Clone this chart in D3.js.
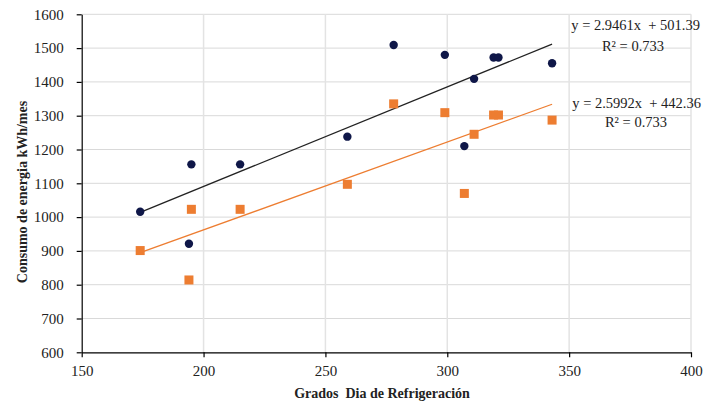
<!DOCTYPE html>
<html>
<head>
<meta charset="utf-8">
<script src="https://cdn.jsdelivr.net/npm/d3@7"></script>
<style>
  body { margin: 0; background: #fff; }
  svg text { font-family: "Liberation Serif", "Times New Roman", "DejaVu Serif", serif; }
</style>
</head>
<body>
<svg id="chart" width="705" height="404"></svg>
<script>
// grados dia (x) - same for both series
const gradosDia = [174, 194, 195, 215, 259, 278, 299, 307, 311, 319, 321, 343];
// consumo, serie azul (circulos)
const consumoAzul = [1016, 921, 1156, 1156, 1238, 1509, 1480, 1210, 1409, 1472, 1472, 1455];
// consumo, serie naranja (cuadrados)
const consumoNaranja = [901, 814, 1023, 1023, 1097, 1335, 1309, 1070, 1245, 1302, 1302, 1287];

// tendencias lineales
const trendAzul = { m: 2.9461, b: 501.39, label: 'y = 2.9461x  + 501.39', r2: 'R² = 0.733' };
const trendNaranja = { m: 2.5992, b: 442.36, label: 'y = 2.5992x  + 442.36', r2: 'R² = 0.733' };

const xTicks = [150, 200, 250, 300, 350, 400];
const yTicks = [600, 700, 800, 900, 1000, 1100, 1200, 1300, 1400, 1500, 1600];

const NAVY = '#0f1748';
const ORANGE = '#ed7d31';
const SERIF = '"Liberation Serif", "Times New Roman", "DejaVu Serif", serif';

const svg = d3.select('#chart');

const x = d3.scaleLinear().domain([150, 400]).range([81.7, 691]);
const y = d3.scaleLinear().domain([600, 1600]).range([352.3, 14.3]);

// grid
svg.append('g').selectAll('line.h')
    .data(yTicks.slice(1)).enter().append('line')
    .attr('x1', x(150)).attr('x2', x(400))
    .attr('y1', d => y(d)).attr('y2', d => y(d))
    .attr('stroke', '#d9d9d9').attr('stroke-width', 1);

svg.append('g').selectAll('line.v')
    .data(xTicks.slice(1)).enter().append('line')
    .attr('x1', d => x(d)).attr('x2', d => x(d))
    .attr('y1', y(600)).attr('y2', y(1600))
    .attr('stroke', '#e3e3e3').attr('stroke-width', 1.5);

// axes
const xAxis = svg.append('g')
    .attr('transform', `translate(0,${y(600)})`)
    .call(d3.axisBottom(x).tickValues(xTicks).tickFormat(d3.format('d'))
        .tickSize(5).tickSizeOuter(0).tickPadding(8));

const yAxis = svg.append('g')
    .attr('transform', `translate(${x(150)},0)`)
    .call(d3.axisLeft(y).tickValues(yTicks).tickFormat(d3.format('d'))
        .tickSize(5).tickSizeOuter(0).tickPadding(13));

[xAxis, yAxis].forEach(a => {
    a.attr('font-family', SERIF).attr('font-size', 15);
    a.selectAll('path, line').attr('stroke', '#000').attr('stroke-width', 1.2);
    a.selectAll('text').attr('fill', '#222');
});

// trend lines
const xMin = d3.min(gradosDia), xMax = d3.max(gradosDia);
[[trendAzul, '#222'], [trendNaranja, ORANGE]].forEach(([t, col]) => {
    svg.append('line')
        .attr('x1', x(xMin)).attr('y1', y(t.m * xMin + t.b))
        .attr('x2', x(xMax)).attr('y2', y(t.m * xMax + t.b))
        .attr('stroke', col).attr('stroke-width', 1.3);
});

// markers
svg.append('g').selectAll('rect')
    .data(gradosDia).enter().append('rect')
    .attr('x', (d) => x(d) - 4.5)
    .attr('y', (d, i) => y(consumoNaranja[i]) - 4.5)
    .attr('width', 9).attr('height', 9)
    .attr('fill', ORANGE);

svg.append('g').selectAll('circle')
    .data(gradosDia).enter().append('circle')
    .attr('cx', d => x(d))
    .attr('cy', (d, i) => y(consumoAzul[i]))
    .attr('r', 4.2)
    .attr('fill', NAVY);

// equations
const eq = svg.append('g').attr('font-family', SERIF).style('font-size', '14.5px').attr('fill', '#222');
eq.append('text').attr('x', 700).attr('y', 30).attr('text-anchor', 'end')
    .style('white-space', 'pre').text(trendAzul.label);
eq.append('text').attr('x', 633).attr('y', 51).attr('text-anchor', 'middle').text(trendAzul.r2);
eq.append('text').attr('x', 701).attr('y', 108).attr('text-anchor', 'end')
    .style('white-space', 'pre').text(trendNaranja.label);
eq.append('text').attr('x', 636).attr('y', 127).attr('text-anchor', 'middle').text(trendNaranja.r2);

// axis titles
svg.append('text')
    .attr('x', 382).attr('y', 398)
    .attr('text-anchor', 'middle')
    .attr('font-family', SERIF)
    .style('font-size', '14px').style('font-weight', 'bold')
    .style('white-space', 'pre')
    .attr('fill', '#222')
    .text('Grados  Dia de Refrigeración');

svg.append('text')
    .attr('transform', 'translate(27,192) rotate(-90)')
    .attr('text-anchor', 'middle')
    .attr('font-family', SERIF)
    .style('font-size', '14px').style('font-weight', 'bold')
    .attr('fill', '#222')
    .text('Consumo de energia kWh/mes');
</script>
</body>
</html>
